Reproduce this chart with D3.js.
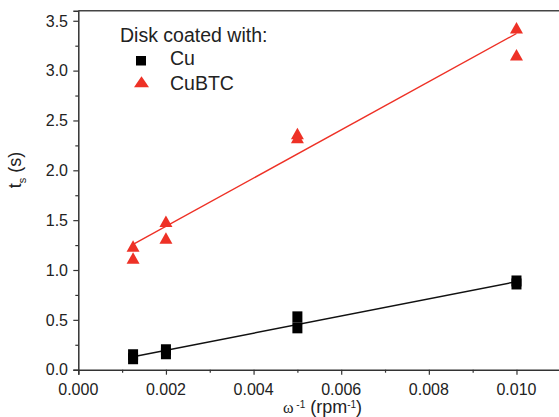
<!DOCTYPE html>
<html><head><meta charset="utf-8">
<script src="https://cdn.jsdelivr.net/npm/d3@7/dist/d3.min.js"></script>
<style>body{margin:0;background:#fff}svg{display:block}</style>
</head><body>
<svg id="c" width="559" height="417"></svg>
<script>
// data
const cuX = [0.00125, 0.00125, 0.002, 0.002, 0.005, 0.005, 0.010, 0.010];
const cuY = [0.15, 0.11, 0.20, 0.16, 0.53, 0.42, 0.86, 0.89];
const btcX = [0.00125, 0.00125, 0.002, 0.002, 0.005, 0.005, 0.010, 0.010];
const btcY = [1.24, 1.12, 1.49, 1.32, 2.37, 2.33, 3.43, 3.16];
const xTicks = [0.000, 0.002, 0.004, 0.006, 0.008, 0.010];
const yTicks = [0.0, 0.5, 1.0, 1.5, 2.0, 2.5, 3.0, 3.5];
const legendTitle = "Disk coated with:";
const seriesNames = ["Cu", "CuBTC"];

const RED = "#ee3126";
const FONT = "'Liberation Sans', Arial, sans-serif";
const svg = d3.select("#c");
const x = d3.scaleLinear().domain([0, 0.011]).range([78.3, 560.3]);
const y = d3.scaleLinear().domain([0, 3.6]).range([369.7, 10.8]);

function fit(xs, ys) {
  const n = xs.length, mx = d3.mean(xs), my = d3.mean(ys);
  let sxy = 0, sxx = 0;
  for (let i = 0; i < n; i++) { sxy += (xs[i]-mx)*(ys[i]-my); sxx += (xs[i]-mx)**2; }
  const b = sxy/sxx, a = my - b*mx;
  const x0 = d3.min(xs), x1 = d3.max(xs);
  return [[x0, a+b*x0], [x1, a+b*x1]];
}

// axes
const gx = svg.append("g").attr("transform", `translate(0,${y(0)})`)
  .call(d3.axisBottom(x).tickValues(d3.range(0, 0.0111, 0.001)).tickSize(5).tickFormat(""));
gx.selectAll(".tick line").attr("y2", (d,i) => i % 2 === 0 ? 5 : 3);
const gy = svg.append("g").attr("transform", `translate(${x(0)},0)`)
  .call(d3.axisLeft(y).tickValues(d3.range(0, 3.51, 0.25)).tickSize(5).tickFormat(""));
gy.selectAll(".tick line").attr("x2", (d,i) => i % 2 === 0 ? -5 : -3);
[gx, gy].forEach(g => {
  g.select(".domain").attr("stroke", "#333").attr("stroke-width", 1.5);
  g.selectAll(".tick line").attr("stroke", "#333").attr("stroke-width", 1.2);
});
svg.append("line").attr("x1", x(0)).attr("x2", 559).attr("y1", y(3.6)).attr("y2", y(3.6))
  .attr("stroke", "#444").attr("stroke-width", 1.6);

svg.selectAll(".xl").data(xTicks).enter().append("text")
  .attr("x", d => x(d)).attr("y", 394.5).attr("text-anchor", "middle")
  .attr("font-family", FONT).attr("font-size", 16).attr("fill", "#222")
  .text(d => d3.format(".3f")(d));
svg.selectAll(".yl").data(yTicks).enter().append("text")
  .attr("x", 68).attr("y", d => y(d)).attr("dy", "0.36em").attr("text-anchor", "end")
  .attr("font-family", FONT).attr("font-size", 16).attr("fill", "#222")
  .text(d => d3.format(".1f")(d));

// axis titles
const yt = svg.append("text").attr("transform", "translate(21,170) rotate(-90)")
  .attr("text-anchor", "middle").attr("font-family", FONT).attr("fill", "#222");
yt.append("tspan").attr("font-size", 18).text("t");
yt.append("tspan").attr("font-size", 11).attr("dy", 5).text("s");
yt.append("tspan").attr("font-size", 18).attr("dy", -5).text(" (s)");

const xt = svg.append("text").attr("x", 283).attr("y", 412.5)
  .attr("font-family", FONT).attr("fill", "#222");
xt.append("tspan").attr("font-size", 16).attr("font-family", "'Liberation Serif', serif").text("ω");
xt.append("tspan").attr("font-size", 10).attr("dy", -5).text(" -1");
xt.append("tspan").attr("font-size", 18).attr("dy", 5).text(" (rpm");
xt.append("tspan").attr("font-size", 10).attr("dy", -5).text("-1");
xt.append("tspan").attr("font-size", 18).attr("dy", 5).text(")");

// fit lines
const line = d3.line().x(d => x(d[0])).y(d => y(d[1]));
svg.append("path").attr("d", line(fit(cuX, cuY))).attr("stroke", "#111").attr("stroke-width", 1.5).attr("fill", "none");
svg.append("path").attr("d", line(fit(btcX, btcY))).attr("stroke", RED).attr("stroke-width", 1.4).attr("fill", "none");

// markers
function tri(cx, cy, w, h) {
  return `M${cx},${cy-h/2}L${cx+w/2},${cy+h/2}L${cx-w/2},${cy+h/2}Z`;
}
svg.selectAll(".cu").data(cuX.map((d,i)=>[d, cuY[i]])).enter().append("rect")
  .attr("x", d => x(d[0]) - 5).attr("y", d => y(d[1]) - 5.5)
  .attr("width", 10).attr("height", 11).attr("fill", "#000");
svg.selectAll(".btc").data(btcX.map((d,i)=>[d, btcY[i]])).enter().append("path")
  .attr("d", d => tri(x(d[0]), y(d[1]), 13, 11.5)).attr("fill", RED);

// legend
svg.append("text").attr("x", 120).attr("y", 41.5).attr("font-family", FONT)
  .attr("font-size", 19.5).attr("fill", "#222").text(legendTitle);
svg.append("rect").attr("x", 136).attr("y", 56).attr("width", 10).attr("height", 9.5).attr("fill", "#000");
svg.append("path").attr("d", tri(141.5, 81.7, 15, 11)).attr("fill", RED);
svg.selectAll(".lt").data(seriesNames).enter().append("text")
  .attr("x", 170).attr("y", (d,i) => 64.5 + i*25).attr("font-family", FONT)
  .attr("font-size", 19.5).attr("fill", "#222").text(d => d);
</script>
</body></html>
